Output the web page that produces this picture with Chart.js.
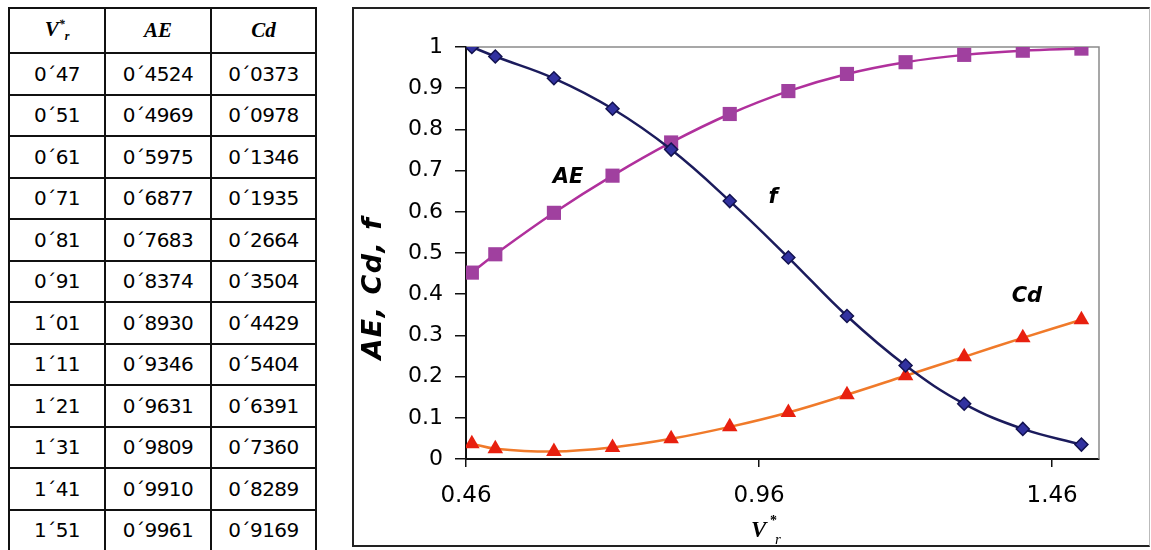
<!DOCTYPE html>
<html>
<head>
<meta charset="utf-8">
<script src="https://cdn.jsdelivr.net/npm/chart.js@4/dist/chart.umd.min.js"></script>
<style>
  html, body { margin: 0; padding: 0; background: #fff; }
  body { width: 1151px; height: 550px; position: relative; overflow: hidden; }
  #tabla {
    position: absolute; left: 8px; top: 7px;
    border-collapse: collapse;
    font-family: "DejaVu Sans", sans-serif; font-size: 20px; color: #000;
  }
  #tabla td, #tabla th { border: 2px solid #111; text-align: center; padding: 0; }
  #tabla th {
    font-family: "Liberation Serif", serif; font-style: italic; font-weight: bold;
    font-size: 21px; height: 43px;
  }
  #tabla td { height: 39.5px; letter-spacing: -0.5px; }
  #tabla sup { font-size: 12px; vertical-align: 8px; }
  #tabla sub { font-size: 12px; vertical-align: -4px; }
  #marco {
    position: absolute; left: 352px; top: 7px; width: 798px; height: 540px;
    box-sizing: border-box; border: 2px solid #222; border-right: 1px solid #bbb;
  }
  #caja { position: absolute; left: 354px; top: 9px; width: 795px; height: 536px; }
</style>
</head>
<body>
<table id="tabla">
  <colgroup><col style="width:96px"><col style="width:106px"><col style="width:105px"></colgroup>
  <thead><tr><th>V<sup>*</sup><sub>r</sub></th><th>AE</th><th>Cd</th></tr></thead>
  <tbody id="filas"></tbody>
</table>
<div id="marco"></div>
<div id="caja"><canvas id="grafico"></canvas></div>

<script>
// Datos
const vr = [0.47, 0.51, 0.61, 0.71, 0.81, 0.91, 1.01, 1.11, 1.21, 1.31, 1.41, 1.51];
const aeVals = [0.4524, 0.4969, 0.5975, 0.6877, 0.7683, 0.8374, 0.8930, 0.9346, 0.9631, 0.9809, 0.9910, 0.9961];
const fVals = [1.0, 0.977, 0.924, 0.85, 0.751, 0.626, 0.489, 0.347, 0.227, 0.134, 0.073, 0.035];
const cdVals = [0.037, 0.025, 0.018, 0.028, 0.049, 0.078, 0.113, 0.156, 0.202, 0.248, 0.294, 0.338];

// columna Cd de la tabla (distinta de la curva Cd)
const tablaCd = [0.0373, 0.0978, 0.1346, 0.1935, 0.2664, 0.3504, 0.4429, 0.5404, 0.6391, 0.7360, 0.8289, 0.9169];

const xTicks = [0.46, 0.96, 1.46];

// etiquetas dentro del gráfico: [texto, x, y] en unidades de datos
const rotulos = [
  ["AE", 0.634, 0.683],
  ["f", 0.984, 0.635],
  ["Cd", 1.417, 0.395],
];

// Tabla
const fmt = (v, d) => v.toFixed(d).replace(".", "\u00B4");
const tbody = document.getElementById("filas");
vr.forEach((v, i) => {
  const tr = document.createElement("tr");
  [fmt(v, 2), fmt(aeVals[i], 4), fmt(tablaCd[i], 4)].forEach(t => {
    const td = document.createElement("td");
    td.textContent = t;
    tr.appendChild(td);
  });
  tbody.appendChild(tr);
});

const pares = ys => vr.map((x, i) => ({ x: x, y: ys[i] }));

// marco gris + títulos de ejes + rótulos
const extras = {
  id: "extras",
  beforeDatasetsDraw(chart) {
    const { ctx, chartArea: a } = chart;
    ctx.save();
    ctx.strokeStyle = "#8a8a8a";
    ctx.lineWidth = 1.5;
    ctx.beginPath();
    ctx.moveTo(a.left, a.top);
    ctx.lineTo(a.right, a.top);
    ctx.lineTo(a.right, a.bottom);
    ctx.stroke();
    ctx.restore();
  },
  afterDraw(chart) {
    const { ctx, chartArea: a, scales } = chart;
    ctx.save();
    ctx.fillStyle = "#000";
    // rótulos de curvas
    ctx.font = "italic bold 21px 'DejaVu Sans'";
    ctx.textAlign = "center";
    ctx.textBaseline = "middle";
    rotulos.forEach(([t, x, y]) => {
      ctx.fillText(t, scales.x.getPixelForValue(x), scales.y.getPixelForValue(y));
    });
    // título eje Y
    ctx.save();
    ctx.translate(a.left - 92, a.top + 241);
    ctx.rotate(-Math.PI / 2);
    ctx.font = "italic bold 27px 'DejaVu Sans'";
    ctx.letterSpacing = "1.5px";
    ctx.fillText("AE, Cd, f", 0, 0);
    ctx.restore();
    // título eje X: V*r
    const x0 = a.left + 285, y0 = a.bottom + 78;
    ctx.textAlign = "left";
    ctx.textBaseline = "alphabetic";
    ctx.font = "italic bold 23px 'Liberation Serif'";
    ctx.fillText("V", x0, y0);
    ctx.font = "bold 14px 'Liberation Serif'";
    ctx.fillText("*", x0 + 19, y0 - 12);
    ctx.font = "italic 15px 'Liberation Serif'";
    ctx.fillText("r", x0 + 24, y0 + 7);
    ctx.restore();
  },
};

new Chart(document.getElementById("grafico"), {
  type: "line",
  data: {
    datasets: [
      {
        label: "f",
        data: pares(fVals),
        borderColor: "#1b1b5c",
        borderWidth: 2.5,
        backgroundColor: "#3232a0",
        pointStyle: "rectRot",
        pointRadius: 6.5,
        pointBorderColor: "#121250",
        pointBorderWidth: 1.5,
        tension: 0.4,
      },
      {
        label: "AE",
        data: pares(aeVals),
        borderColor: "#b0309c",
        borderWidth: 2.5,
        backgroundColor: "#a0409f",
        pointStyle: "rect",
        pointRadius: 10,
        pointBorderWidth: 0,
        tension: 0.4,
      },
      {
        label: "Cd",
        data: pares(cdVals),
        borderColor: "#f07a2a",
        borderWidth: 2.5,
        backgroundColor: "#e8200f",
        pointStyle: "triangle",
        pointRadius: 9,
        pointBorderWidth: 0,
        tension: 0.4,
      },
    ],
  },
  options: {
    responsive: true,
    maintainAspectRatio: false,
    devicePixelRatio: 1,
    animation: false,
    layout: { padding: { top: 38, right: 50, bottom: 0, left: 0 } },
    plugins: { legend: { display: false }, tooltip: { enabled: false } },
    scales: {
      x: {
        type: "linear",
        min: 0.46,
        max: 1.54,
        afterBuildTicks: s => { s.ticks = xTicks.map(v => ({ value: v })); },
        afterFit: s => { s.height = 86; },
        grid: { drawOnChartArea: false, tickLength: 8, color: "#111", lineWidth: 1.5 },
        border: { color: "#111", width: 2 },
        ticks: {
          font: { family: "DejaVu Sans", size: 23 },
          color: "#000",
          padding: 15,
          maxRotation: 0,
          callback: v => v.toFixed(2),
        },
      },
      y: {
        min: 0,
        max: 1,
        afterFit: s => { s.width = 112; },
        grid: { drawOnChartArea: false, tickLength: 11, color: "#111", lineWidth: 1.5 },
        border: { color: "#111", width: 2 },
        ticks: {
          stepSize: 0.1,
          font: { family: "DejaVu Sans", size: 22 },
          color: "#000",
          padding: 12,
          callback: v => String(+v.toFixed(1)),
        },
      },
    },
  },
  plugins: [extras],
});
</script>
</body>
</html>
